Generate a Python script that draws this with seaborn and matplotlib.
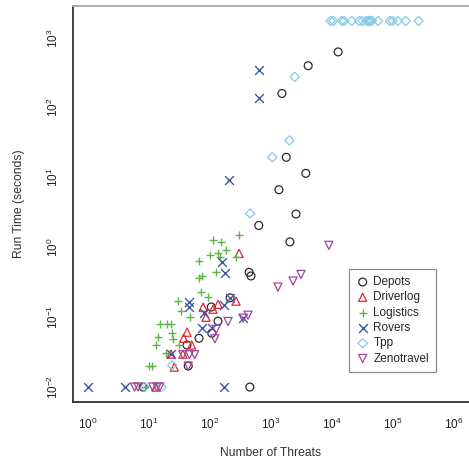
import numpy as np
import pandas as pd
import matplotlib
matplotlib.use("Agg")
import matplotlib.pyplot as plt
import seaborn as sns

sns.set_style("white")
plt.rcParams['font.family'] = ['Liberation Sans', 'DejaVu Sans']

# ---------------- data ----------------
depots_x = [12600, 4070, 1510, 1780, 3720, 1350, 2570, 630, 2040, 437, 470,
            135, 107, 66, 42, 214, 105, 450, 8, 44]
depots_y = [630, 400, 160, 19.5, 11.5, 6.7, 3.0, 2.06, 1.2, 0.44, 0.39,
            0.088, 0.059, 0.05, 0.04, 0.19, 0.14, 0.01, 0.01, 0.02]

driverlog_x = [300, 267, 136, 77, 112, 86, 42, 37, 50, 23, 36, 26, 13]
driverlog_y = [0.82, 0.17, 0.153, 0.139, 0.13, 0.10, 0.061, 0.05, 0.04,
               0.0296, 0.0296, 0.0193, 0.01]

logistics_x = [300, 112, 152, 182, 100, 135, 145, 267, 66, 126, 74, 66, 71, 93,
               30, 33, 47, 15, 20, 23, 23.5, 14, 25, 13, 31, 19, 10, 11.2, 8.7]
logistics_y = [1.53, 1.26, 1.18, 0.906, 0.79, 0.82, 0.74, 0.72, 0.63, 0.45, 0.39,
               0.36, 0.227, 0.193, 0.17, 0.122, 0.10, 0.079, 0.079, 0.079, 0.059,
               0.052, 0.049, 0.040, 0.040, 0.031, 0.02, 0.02, 0.01]

rovers_x = [630, 630, 205, 158, 178, 214, 170, 45, 45, 80, 74, 108, 347, 23,
            170, 1, 4]
rovers_y = [350, 140, 9.1, 0.61, 0.43, 0.19, 0.149, 0.164, 0.139, 0.114, 0.07,
            0.07, 0.097, 0.0296, 0.01, 0.01, 0.01]

tpp_x = [9500, 10500, 14500, 15800, 21000, 28000, 31600, 37000, 40000, 42000,
         45000, 57000, 89000, 98000, 120000, 162000, 263000,
         2450, 2000, 1050, 455, 24, 8.5, 16]
tpp_y = [1750] * 17 + [277, 34, 19.5, 3.06, 0.0205, 0.01, 0.01]

zeno_x = [8900, 3100, 2300, 1300, 420, 347, 198, 126, 120, 36, 46, 56, 44,
          5.8, 6.6, 11.5, 13.5, 15]
zeno_y = [1.07, 0.41, 0.33, 0.27, 0.107, 0.097, 0.087, 0.067, 0.049, 0.029,
          0.029, 0.029, 0.02, 0.01, 0.01, 0.01, 0.01, 0.01]

series = [
    ("Depots", depots_x, depots_y, "o", "#2b2b2b"),
    ("Driverlog", driverlog_x, driverlog_y, "^", "#e3262d"),
    ("Logistics", logistics_x, logistics_y, "+", "#5fb44c"),
    ("Rovers", rovers_x, rovers_y, "x", "#4157aa"),
    ("Tpp", tpp_x, tpp_y, "D", "#86cbe3"),
    ("Zenotravel", zeno_x, zeno_y, "v", "#a2449f"),
]

fig = plt.figure(figsize=(4.69, 4.61), dpi=100)
ax = fig.add_axes([73 / 469, 1 - 402 / 461, (469 - 73) / 469, (402 - 6) / 461])

for name, xs, ys, m, c in series:
    df = pd.DataFrame({"x": xs, "y": ys})
    if m in ("+", "x"):
        sns.scatterplot(data=df, x="x", y="y", marker=m, color=c, s=40,
                        linewidth=1.0, ax=ax, label=name)
    else:
        size = 22 if m == "D" else (34 if m in ("^", "v") else 32)
        sns.scatterplot(data=df, x="x", y="y", marker=m, facecolor="none",
                        edgecolor=c, s=size, linewidth=0.9, ax=ax, label=name)

ax.set_xscale("log")
ax.set_yscale("log")
ax.set_xlim(10 ** -0.246, 10 ** 6.246)
ax.set_ylim(10 ** -2.214, 10 ** 3.457)
ax.set_xticks([10.0 ** k for k in range(0, 7)])
ax.set_yticks([10.0 ** k for k in range(-2, 4)])
ax.minorticks_off()

ax.tick_params(axis="both", direction="out", length=5, width=1.0,
               color="#333333", labelsize=8.5, labelcolor="#222222")
ax.tick_params(axis="x", pad=6)
ax.tick_params(axis="y", pad=4, labelrotation=90)
for lab in ax.get_yticklabels():
    lab.set_va("center")

for side in ("left", "bottom"):
    ax.spines[side].set_color("#333333")
    ax.spines[side].set_linewidth(1.3)
ax.spines["top"].set_color("#a8a8a8")
ax.spines["top"].set_linewidth(1.3)
ax.spines["right"].set_visible(False)

ax.set_xlabel("Number of Threats", fontsize=8.7, color="#333333", va="center")
ax.set_ylabel("Run Time (seconds)", fontsize=8.7, color="#333333", va="center")
ax.xaxis.set_label_coords(0.5, (402 - 453) / 396)
ax.yaxis.set_label_coords((19 - 73) / 396, 0.5)

leg = ax.legend(loc="upper right", bbox_to_anchor=((436 - 73) / 396, (402 - 269) / 396),
                fontsize=8.5, frameon=True, fancybox=False, framealpha=1,
                edgecolor="#8a8a8a", borderpad=0.6, labelspacing=0.28,
                handletextpad=0.35, handlelength=1.1, borderaxespad=0)
leg.get_frame().set_linewidth(0.9)

fig.savefig("out.png", dpi=100)
